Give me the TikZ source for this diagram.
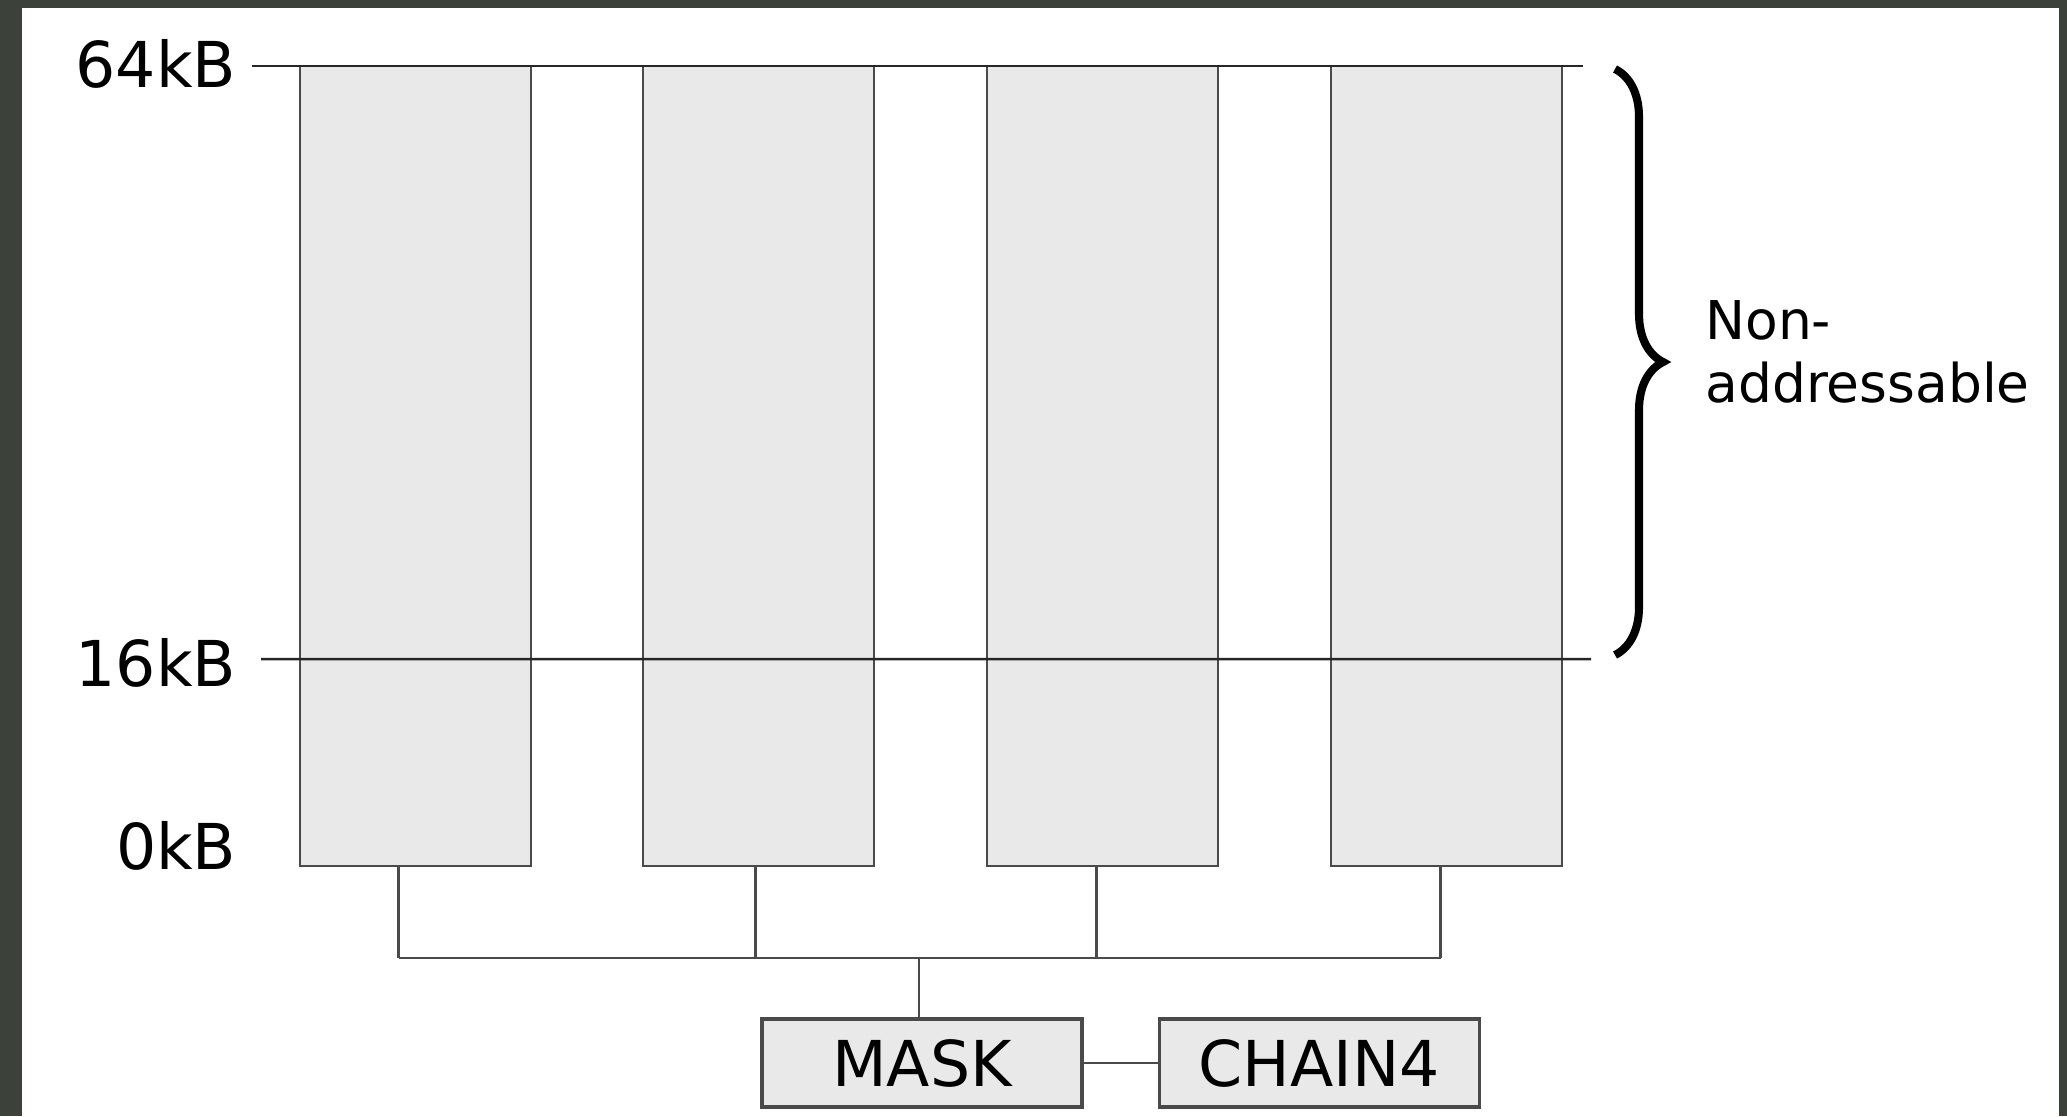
\documentclass[tikz,border=0pt]{standalone}
\usepackage{fontspec}
\setmainfont{DejaVu Sans}
\usepackage{xcolor}
\usetikzlibrary{positioning, calc, decorations.pathreplacing}

\definecolor{frame}{HTML}{3C4239}
\definecolor{bankfill}{HTML}{E9E9E9}
\definecolor{edge}{HTML}{4A4A4A}

\begin{document}
\begin{tikzpicture}[
    bank/.style={rectangle, draw=edge, fill=bankfill, line width=0.8pt, minimum width=2.31cm, minimum height=8.0cm, inner sep=0pt},
    reg/.style={rectangle, draw=edge, fill=bankfill, line width=0.9pt, minimum width=3.2cm, minimum height=0.88cm, font=\fontsize{18}{20}\selectfont},
    size/.style={anchor=east, font=\fontsize{18}{20}\selectfont, inner sep=0pt},
    level/.style={line width=0.7pt, black!85},
    wire/.style={line width=0.8pt, edge}
  ]
  \useasboundingbox (0,0) rectangle (20.67,-11.16);
  \fill[frame] (0,0) rectangle (20.67,-11.16);
  \fill[white] (0.22,-0.08) rectangle (20.59,-11.16);

  % --- MEMORY BANKS ---
  \foreach \i/\x in {1/4.155, 2/7.585, 3/11.025, 4/14.465}
    \node[bank] (bank\i) at (\x,-4.66) {};

  % --- ADDRESS LEVELS ---
  \node[size] (top) at (2.37,-0.64) {64kB};
  \node[size] (mid) at (2.37,-6.63) {16kB};
  \node[size] (low) at (2.37,-8.46) {0kB};
  \draw[level] ($(top.east)+(0.15,-0.02)$) -- (15.83,-0.66);
  \draw[level] ($(mid.east)+(0.24,0.04)$) -- (15.91,-6.59);

  \draw[decorate, decoration={brace, mirror, amplitude=0.48cm}, line width=2.3pt]
    (16.15,-6.55) -- (16.15,-0.69);
  \node[anchor=west, align=left, font=\fontsize{15.2}{18}\selectfont] (na) at (16.93,-3.52) {Non-\\addressable};

  % --- SELECT LOGIC ---
  \node[reg] (mask) at (9.22,-10.63) {MASK};
  \node[reg, right=0.74cm of mask] (chain) {CHAIN4};
  \coordinate (bus) at (0,-9.58);
  \coordinate (tap) at ($(mask.north)+(-0.03,0)$);

  \foreach \i/\dx in {1/-0.17, 2/-0.03, 3/-0.06, 4/-0.06}
    \draw[wire] ($(bank\i.south)+(\dx,0)$) coordinate (drop\i) -- (drop\i |- bus);
  \draw[wire] (drop1 |- bus) -- (drop4 |- bus);
  \draw[wire] (tap) -- (tap |- bus);
  \draw[wire] (mask) -- (chain);
\end{tikzpicture}
\end{document}
